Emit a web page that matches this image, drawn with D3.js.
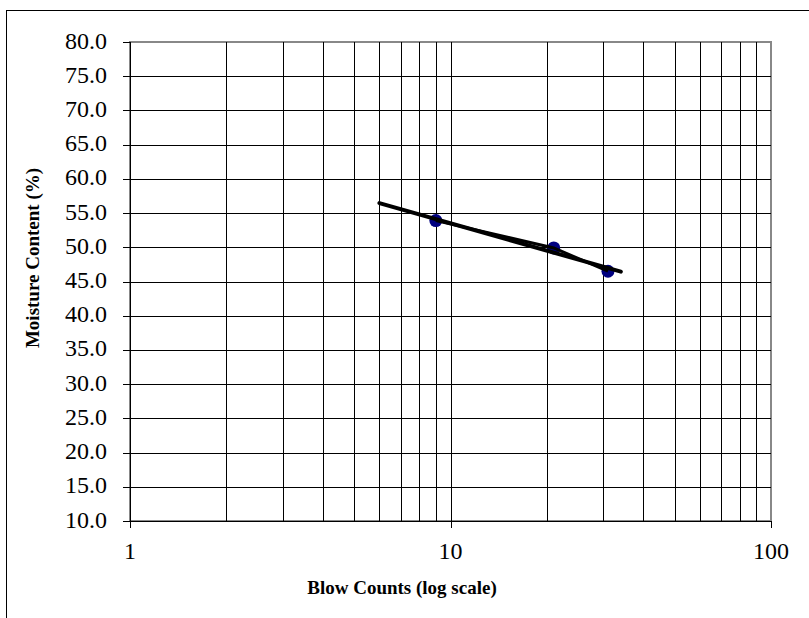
<!DOCTYPE html>
<html>
<head>
<meta charset="utf-8">
<script src="https://cdn.jsdelivr.net/npm/d3@7"></script>
<style>
  html, body { margin: 0; padding: 0; background: #fff; }
  svg { display: block; }
</style>
</head>
<body>
<svg id="chart" width="809" height="618"></svg>
<script>
// Liquid limit test: blow counts vs moisture content
const blowCounts = [9, 21, 31];
const moisture = [53.9, 49.9, 46.5];
const trendRange = [6, 34];
const xTickValues = [1, 10, 100];
const xTickLabels = ["1", "10", "100"];
const yTickValues = [10, 15, 20, 25, 30, 35, 40, 45, 50, 55, 60, 65, 70, 75, 80];

const FONT = "'Liberation Serif', 'DejaVu Serif', 'Times New Roman', serif";
const svg = d3.select("#chart");
const plot = { left: 130, top: 42, right: 771, bottom: 521 };

// Outer frame
svg.append("rect")
  .attr("x", 6.5).attr("y", 10.5)
  .attr("width", 810).attr("height", 620)
  .attr("fill", "none").attr("stroke", "#000").attr("stroke-width", 1);

const x = d3.scaleLog().domain([1, 100]).range([plot.left, plot.right]);
const y = d3.scaleLinear().domain([10, 80]).range([plot.bottom, plot.top]);

const snap = v => Math.round(v) + 0.5;

// Plot area border
svg.append("rect")
  .attr("x", plot.left).attr("y", plot.top)
  .attr("width", plot.right - plot.left).attr("height", plot.bottom - plot.top)
  .attr("fill", "none").attr("stroke", "#888").attr("stroke-width", 2);

// Vertical grid (major and minor log lines)
const vGrid = [];
for (let dec = 1; dec < 100; dec *= 10) {
  for (let m = 1; m < 10; m++) {
    const v = dec * m;
    if (v > 1) vGrid.push(v);
  }
}
svg.append("g").selectAll("line").data(vGrid).join("line")
  .attr("x1", d => snap(x(d))).attr("x2", d => snap(x(d)))
  .attr("y1", plot.top).attr("y2", plot.bottom)
  .attr("stroke", "#000").attr("stroke-width", 1);

// Horizontal grid
svg.append("g").selectAll("line").data(yTickValues.filter(v => v > 10 && v < 80)).join("line")
  .attr("x1", plot.left).attr("x2", plot.right)
  .attr("y1", d => snap(y(d))).attr("y2", d => snap(y(d)))
  .attr("stroke", "#000").attr("stroke-width", 1);

// Y axis
const yAxis = svg.append("g");
yAxis.append("line")
  .attr("x1", snap(plot.left)).attr("x2", snap(plot.left))
  .attr("y1", plot.top).attr("y2", plot.bottom)
  .attr("stroke", "#000");
yAxis.selectAll("line.tick").data(yTickValues).join("line")
  .attr("class", "tick")
  .attr("x1", plot.left - 7).attr("x2", plot.left)
  .attr("y1", d => snap(y(d))).attr("y2", d => snap(y(d)))
  .attr("stroke", "#000");
yAxis.selectAll("text").data(yTickValues).join("text")
  .attr("x", 107).attr("y", d => y(d) + 6.5)
  .attr("text-anchor", "end")
  .attr("font-family", FONT).attr("font-size", 24)
  .text(d => d3.format(".1f")(d));

// X axis
const xAxis = svg.append("g");
xAxis.append("line")
  .attr("x1", plot.left).attr("x2", plot.right)
  .attr("y1", snap(plot.bottom)).attr("y2", snap(plot.bottom))
  .attr("stroke", "#000");
xAxis.selectAll("line.tick").data(xTickValues).join("line")
  .attr("class", "tick")
  .attr("x1", d => snap(x(d))).attr("x2", d => snap(x(d)))
  .attr("y1", plot.bottom).attr("y2", plot.bottom + 7)
  .attr("stroke", "#000");
xAxis.selectAll("text").data(xTickValues).join("text")
  .attr("x", d => x(d)).attr("y", 559)
  .attr("text-anchor", "middle")
  .attr("font-family", FONT).attr("font-size", 24)
  .text((d, i) => xTickLabels[i]);

// Axis titles
svg.append("text")
  .attr("x", 402).attr("y", 594)
  .attr("text-anchor", "middle")
  .attr("font-family", FONT).attr("font-size", 19).attr("font-weight", "bold")
  .text("Blow Counts (log scale)");
svg.append("text")
  .attr("transform", "translate(39,258) rotate(-90)")
  .attr("text-anchor", "middle")
  .attr("font-family", FONT).attr("font-size", 19).attr("font-weight", "bold")
  .text("Moisture Content (%)");

// Data points
const pts = blowCounts.map((b, i) => [b, moisture[i]]);
svg.append("g").selectAll("circle").data(pts).join("circle")
  .attr("cx", d => x(d[0])).attr("cy", d => y(d[1]))
  .attr("r", 6.5).attr("fill", "#000080");

// Line through the measured points
svg.append("path")
  .datum(pts)
  .attr("d", d3.line().x(d => x(d[0])).y(d => y(d[1])))
  .attr("fill", "none").attr("stroke", "#000").attr("stroke-width", 3);

// Logarithmic least-squares trend line
const lx = blowCounts.map(Math.log10);
const mx = d3.mean(lx), my = d3.mean(moisture);
const slope = d3.sum(lx, (v, i) => (v - mx) * (moisture[i] - my)) / d3.sum(lx, v => (v - mx) ** 2);
const icpt = my - slope * mx;
const trend = trendRange.map(b => [b, icpt + slope * Math.log10(b)]);
svg.append("path")
  .datum(trend)
  .attr("d", d3.line().x(d => x(d[0])).y(d => y(d[1])))
  .attr("fill", "none").attr("stroke", "#000").attr("stroke-width", 4)
  .attr("stroke-linecap", "round");
</script>
</body>
</html>
